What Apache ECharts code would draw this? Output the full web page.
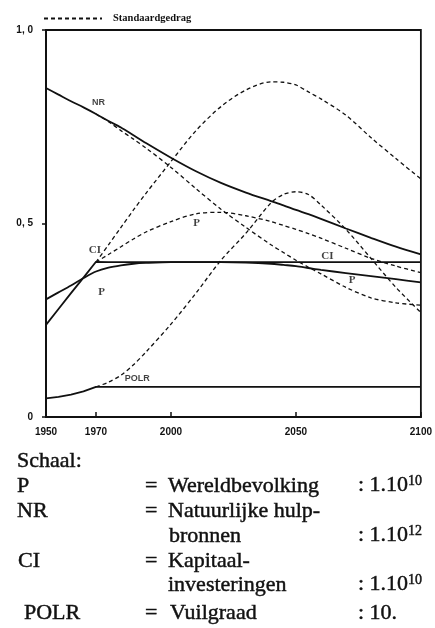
<!DOCTYPE html>
<html>
<head>
<meta charset="utf-8">
<script src="https://cdn.jsdelivr.net/npm/echarts@6/dist/echarts.min.js"></script>
<style>
  html, body { margin: 0; padding: 0; background: #fff; }
  #chart { width: 435px; height: 628px; }
</style>
</head>
<body>
<div id="chart"></div>
<script>
// jaartallen: solide lijnen vanaf 1950, standaardgedrag vanaf 1970
const fullYears = [1950, 1955, 1960, 1965, 1970, 1975, 1980, 1985, 1990, 2000, 2010, 2020, 2030, 2040, 2045, 2050, 2055, 2060, 2070, 2080, 2090, 2100]
const runYears = [1970, 1975, 1980, 1985, 1990, 2000, 2010, 2020, 2030, 2040, 2045, 2050, 2055, 2060, 2070, 2080, 2090, 2100]

// gewijzigd gedrag (doorgetrokken)
const nrSolid = [0.85, 0.833, 0.816, 0.80, 0.783, 0.765, 0.748, 0.728, 0.708, 0.670, 0.635, 0.605, 0.58, 0.558, 0.547, 0.535, 0.524, 0.512, 0.487, 0.463, 0.44, 0.42]
const ciSolid = [0.238, 0.279, 0.32, 0.36, 0.401, 0.40, 0.40, 0.40, 0.40, 0.40, 0.40, 0.40, 0.40, 0.40, 0.40, 0.40, 0.40, 0.40, 0.40, 0.40, 0.40, 0.40]
const pSolid = [0.304, 0.322, 0.34, 0.359, 0.376, 0.386, 0.392, 0.396, 0.398, 0.40, 0.40, 0.40, 0.399, 0.396, 0.393, 0.39, 0.385, 0.38, 0.372, 0.364, 0.356, 0.348]
const polrSolid = [0.048, 0.052, 0.058, 0.066, 0.078, 0.078, 0.078, 0.078, 0.078, 0.078, 0.078, 0.078, 0.078, 0.078, 0.078, 0.078, 0.078, 0.078, 0.078, 0.078, 0.078, 0.078]

// standaardgedrag (gestippeld)
const ciStd = [0.40, 0.445, 0.49, 0.535, 0.578, 0.66, 0.74, 0.802, 0.845, 0.866, 0.865, 0.858, 0.84, 0.822, 0.78, 0.722, 0.668, 0.615]
const pStd = [0.40, 0.42, 0.44, 0.46, 0.478, 0.505, 0.525, 0.529, 0.52, 0.505, 0.495, 0.485, 0.474, 0.462, 0.436, 0.41, 0.39, 0.373]
const nrStd = [0.783, 0.763, 0.74, 0.718, 0.695, 0.645, 0.59, 0.537, 0.49, 0.445, 0.425, 0.405, 0.387, 0.37, 0.335, 0.308, 0.295, 0.289]
const polrStd = [0.078, 0.09, 0.108, 0.135, 0.168, 0.24, 0.32, 0.405, 0.475, 0.553, 0.575, 0.582, 0.575, 0.548, 0.485, 0.41, 0.335, 0.27]

// as-labels
const xTicks = [1950, 1970, 2000, 2050, 2100]
const yTicks = [0, 0.5, 1]

// namen in de grafiek
const labelNames = ['NR', 'CI', 'P', 'P', 'CI', 'P', 'POLR']
const labelYears = [1971, 1969.6, 1972.3, 2010.3, 2062.6, 2072.5, 1986.5]
const labelValues = [0.813, 0.43, 0.322, 0.50, 0.416, 0.354, 0.10]

const pair = (xs, ys) => xs.map((x, i) => [x, ys[i]])

const solid = (name, xs, ys, smooth) => ({
  name: name,
  type: 'line',
  data: pair(xs, ys),
  symbol: 'none',
  smooth: smooth,
  silent: true,
  lineStyle: { color: '#111', width: 1.8 }
})
const dashed = (xs, ys) => ({
  name: 'Standaardgedrag',
  type: 'line',
  data: pair(xs, ys),
  symbol: 'none',
  smooth: 0.3,
  silent: true,
  itemStyle: { color: '#111' },
  lineStyle: { color: '#111', width: 1.3, type: [4, 3] }
})

const serif = 'Liberation Serif'
const txt = (x, y, text) => ({
  type: 'text',
  x: x,
  y: y,
  style: {
    text: text,
    fill: '#111',
    stroke: '#111',
    lineWidth: 0.45,
    font: '22px "' + serif + '"',
    verticalAlign: 'bottom',
    rich: {
      s: { fontSize: 14, fontFamily: serif, verticalAlign: 'top', padding: [0, 0, 9, 0] }
    }
  }
})

let myChart = echarts.init(document.getElementById('chart'), null, { renderer: 'canvas' })
myChart.setOption({
  backgroundColor: '#fff',
  animation: false,
  legend: {
    data: ['Standaardgedrag'],
    left: 38,
    top: 8,
    itemWidth: 58,
    itemHeight: 10,
    itemStyle: { opacity: 0 },
    textStyle: { fontSize: 10.5, fontWeight: 'bold', fontFamily: 'Liberation Serif', color: '#111', padding: [0, 0, 0, 6] },
    selectedMode: false
  },
  grid: { left: 46, right: 10, top: 30, bottom: 211, show: true, borderColor: '#111', borderWidth: 1.8 },
  xAxis: {
    type: 'value',
    min: 1950,
    max: 2100,
    splitLine: { show: false },
    axisLine: { lineStyle: { color: '#111', width: 1.8 } },
    axisTick: { inside: true, length: 5, customValues: xTicks, lineStyle: { color: '#111', width: 1.5 } },
    axisLabel: {
      customValues: xTicks,
      margin: 10,
      fontSize: 10,
      fontWeight: 'bold',
      fontFamily: 'Liberation Sans',
      color: '#111',
      formatter: v => String(v)
    }
  },
  yAxis: {
    type: 'value',
    min: 0,
    max: 1,
    splitLine: { show: false },
    axisLine: { show: true, lineStyle: { color: '#111', width: 2 } },
    axisTick: { show: true, length: 4, customValues: yTicks, lineStyle: { color: '#111', width: 1.5 } },
    axisLabel: {
      customValues: yTicks,
      margin: 13,
      fontSize: 10,
      fontWeight: 'bold',
      fontFamily: 'Liberation Sans',
      color: '#111',
      formatter: v => (v === 0 ? '0' : v.toFixed(1).replace('.', ', '))
    }
  },
  series: [
    solid('NR', fullYears, nrSolid, 0.3),
    solid('CI', fullYears, ciSolid, false),
    solid('P', fullYears, pSolid, 0.3),
    solid('POLR', fullYears, polrSolid, false),
    dashed(runYears, ciStd),
    dashed(runYears, pStd),
    dashed(runYears, nrStd),
    dashed(runYears, polrStd),
    {
      name: 'labels',
      type: 'scatter',
      silent: true,
      symbolSize: 1,
      itemStyle: { color: 'rgba(0,0,0,0)' },
      data: labelNames.map((n, i) => {
        const small = n === 'NR' || n === 'POLR'
        return {
          value: [labelYears[i], labelValues[i]],
          name: n,
          label: {
            show: true,
            position: 'inside',
            formatter: '{b}',
            color: '#111',
            fontSize: small ? 9 : 11,
            fontWeight: 'bold',
            fontFamily: small ? 'Liberation Sans' : 'Liberation Serif'
          }
        }
      })
    }
  ],
  graphic: [
    txt(17, 472, 'Schaal:'),
    txt(17, 497, 'P'),
    txt(145, 497, '='),
    txt(168, 497, 'Wereldbevolking'),
    txt(358, 497, ': 1.10{s|10}'),
    txt(17, 522, 'NR'),
    txt(145, 522, '='),
    txt(168, 522, 'Natuurlijke hulp-'),
    txt(169, 547, 'bronnen'),
    txt(358, 547, ': 1.10{s|12}'),
    txt(18, 572, 'CI'),
    txt(145, 572, '='),
    txt(168, 572, 'Kapitaal-'),
    txt(168, 596, 'investeringen'),
    txt(358, 596, ': 1.10{s|10}'),
    txt(24, 624, 'POLR'),
    txt(145, 624, '='),
    txt(170, 624, 'Vuilgraad'),
    txt(358, 624, ': 10.')
  ]
})
</script>
</body>
</html>
